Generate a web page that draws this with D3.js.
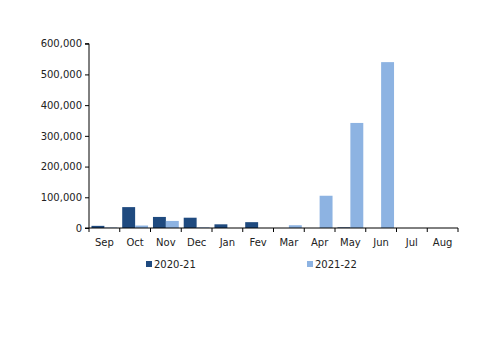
<!DOCTYPE html>
<html><head><meta charset="utf-8">
<script src="https://cdn.jsdelivr.net/npm/d3@7"></script>
<style>body{margin:0;background:#fff}svg{display:block}</style>
</head><body>
<svg id="c" width="500" height="353"></svg>
<script>
const months = ["Sep","Oct","Nov","Dec","Jan","Fev","Mar","Apr","May","Jun","Jul","Aug"];
const seriesNames = ["2020-21","2021-22"];
const s2021 = [7000, 68000, 36000, 33500, 12000, 19000, 0, 0, 2000, 0, 0, 0];
const s2122 = [1500, 8000, 23000, 2000, 0, 0, 9000, 105000, 342000, 540000, 0, 0];
const yTicks = [0,100000,200000,300000,400000,500000,600000];
const colors = ["#1F4A7F","#8DB3E2"];

(function(){
const svg = d3.select("#c");
const pL = 89, pR = 458, pT = 43.7, pB = 228;
const x = d3.scaleBand().domain(months).range([pL, pR]).paddingInner(0.16).paddingOuter(0.08);
const xs = d3.scaleBand().domain(seriesNames).range([0, x.bandwidth()]);
const y = d3.scaleLinear().domain([0, 600000]).range([pB, pT]);
const xTick = d3.scalePoint().domain(d3.range(13)).range([pL, pR]);

const data = months.map((m,i)=>({m, vals:[s2021[i], s2122[i]]}));
const g = svg.append("g");
data.forEach(d=>{
  d.vals.forEach((v,j)=>{
    if (v<=0) return;
    g.append("rect")
      .attr("x", x(d.m)+xs(seriesNames[j]))
      .attr("width", xs.bandwidth())
      .attr("y", y(v))
      .attr("height", pB - y(v))
      .attr("fill", colors[j]);
  });
});

const ya = svg.append("g").attr("transform",`translate(${pL},0)`)
  .call(d3.axisLeft(y).tickValues(yTicks).tickSize(4).tickPadding(3).tickFormat(d3.format(",")));
ya.select(".domain").attr("stroke","#000").attr("d",`M-4,${pT}H0V${pB}H-4`);
ya.selectAll("text").attr("font-family","DejaVu Sans").attr("font-size",10).attr("fill","#222");

svg.append("line").attr("x1",pL).attr("x2",pR).attr("y1",pB).attr("y2",pB).attr("stroke","#000");
svg.selectAll(".xt").data(d3.range(13)).enter().append("line")
  .attr("x1",d=>xTick(d)).attr("x2",d=>xTick(d)).attr("y1",pB).attr("y2",pB+4).attr("stroke","#000");
svg.selectAll(".xl").data(months).enter().append("text")
  .attr("x",(d,i)=>(xTick(i)+xTick(i+1))/2).attr("y",246)
  .attr("text-anchor","middle").attr("font-family","DejaVu Sans").attr("font-size",10).attr("fill","#222")
  .text(d=>d);

const lg = [{x:146,name:seriesNames[0],c:colors[0]},{x:307,name:seriesNames[1],c:colors[1]}];
lg.forEach(l=>{
  svg.append("rect").attr("x",l.x).attr("y",261).attr("width",6).attr("height",6).attr("fill",l.c);
  svg.append("text").attr("x",l.x+8).attr("y",268).attr("font-family","DejaVu Sans").attr("font-size",10).attr("fill","#222").text(l.name);
});
})();
</script>
</body></html>
